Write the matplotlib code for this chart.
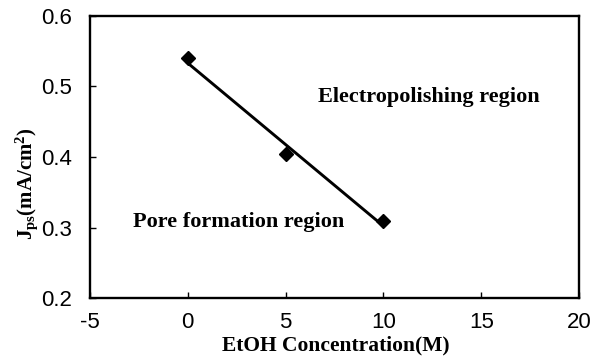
import numpy as np
import matplotlib.pyplot as plt

plt.rcParams['mathtext.fontset'] = 'custom'
plt.rcParams['mathtext.rm'] = 'Liberation Serif:bold'
plt.rcParams['mathtext.it'] = 'Liberation Serif:bold'
plt.rcParams['mathtext.bf'] = 'Liberation Serif:bold'

conc = [0, 5, 10]
jps = [0.540, 0.404, 0.309]
xticks = [-5, 0, 5, 10, 15, 20]
yticks = [0.2, 0.3, 0.4, 0.5, 0.6]

fig = plt.figure(figsize=(6.07, 3.6), dpi=100)
ax = fig.add_axes([0.148, 0.172, 0.806, 0.784])

# linear fit through the points
k, b = np.polyfit(conc, jps, 1)
xs = np.array([conc[0], conc[-1]])
ax.plot(xs, k * xs + b, color='black', lw=2.1)
ax.plot(conc, jps, 'D', color='black', ms=7.5)

ax.set_xlim(-5, 20)
ax.set_ylim(0.2, 0.6)
ax.set_xticks(xticks)
ax.set_yticks(yticks)
ax.set_xticklabels([str(t) for t in xticks], family='Liberation Sans', fontsize=16)
ax.set_yticklabels([f'{t:.1f}' for t in yticks], family='Liberation Sans', fontsize=16)
ax.tick_params(direction='in', length=4, width=1, top=False, right=False)
ax.tick_params(axis='x', pad=10)
ax.tick_params(axis='y', pad=13)
for s in ax.spines.values():
    s.set_linewidth(1.7)

serif = dict(family='Liberation Serif', fontweight='bold')
ax.set_xlabel('EtOH Concentration(M)', fontsize=15.5, va='center', **serif)
ax.xaxis.set_label_coords(0.503, -0.167)
ax.set_ylabel(r'J$_{\rm ps}$(mA/cm$^{\rm 2}$)', fontsize=15, va='center', **serif)
ax.yaxis.set_label_coords(-0.13, 0.404)

ax.text(12.33, 0.485, 'Electropolishing region', ha='center', va='center', fontsize=16, **serif)
ax.text(2.62, 0.308, 'Pore formation region', ha='center', va='center', fontsize=16, **serif)

fig.savefig('out.png', dpi=100)
